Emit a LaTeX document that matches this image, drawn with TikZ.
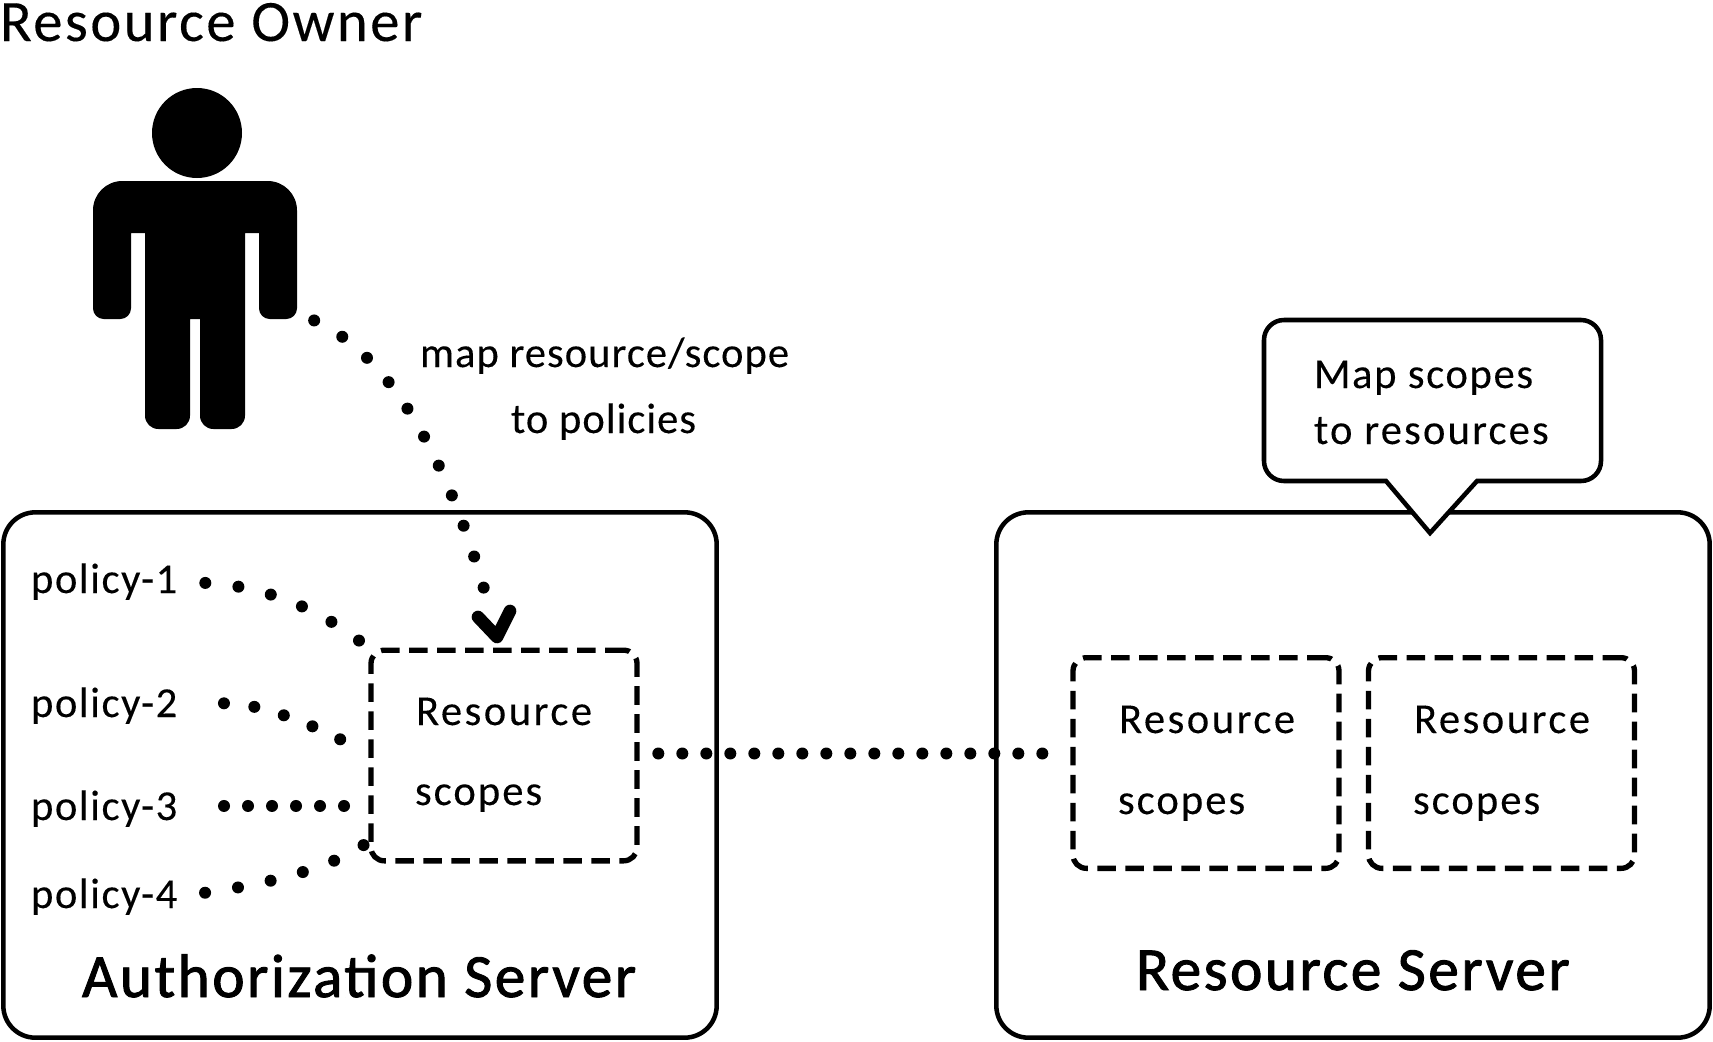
\documentclass[tikz,border=0pt]{standalone}
\usepackage{fontspec}
\setmainfont{Carlito}
\usetikzlibrary{positioning}
\tikzset{
  server/.style={draw,line width=3.4pt,rounded corners=24pt,minimum width=535pt,minimum height=394pt,inner sep=0pt,outer sep=0pt},
  scopebox/.style={draw,line width=4pt,rounded corners=10pt,dash pattern=on 14pt off 7pt,minimum width=199.5pt,minimum height=158pt,outer sep=0pt},
  label/.style={anchor=base west,inner sep=0pt,outer sep=0pt},
  small/.style={label,font=\fontsize{32}{38}\selectfont\addfontfeature{LetterSpace=#1,FakeBold=0.2}},
  big/.style={label,font=\fontsize{44}{52}\selectfont\addfontfeature{LetterSpace=4.2,FakeBold=0.2}},
  title/.style={label,font=\fontsize{46}{54}\selectfont\addfontfeature{LetterSpace=4,FakeBold=1.5}},
  dotlink/.style={line width=9pt,line cap=round,dash pattern=on 0pt off #1},
}
\begin{document}
\begin{tikzpicture}[x=0.75pt,y=-0.75pt]
\useasboundingbox (0,0) rectangle (1713,1042);
% servers
\node[server] (authserver) at (360,775) {};
\node[server] (resserver) at (1353,775) {};
\node[scopebox] (scopeA) at (504,755.5) {};
\node[scopebox] (scopeB) at (1206,763) {};
\node[scopebox] (scopeC) at (1501.5,763) {};
% person
\fill (197,133) circle [radius=45];
\fill (145,233) -- (131,233) [rounded corners=8pt] -- (131,319) -- (93,319) [rounded corners=22pt] -- (93,181) -- (297,181) [rounded corners=8pt] -- (297,319) -- (259,319) [sharp corners] -- (259,233) -- (245,233) [rounded corners=10pt] -- (245,429) -- (200,429) [sharp corners] -- (200,319) -- (190,319) [rounded corners=10pt] -- (190,429) -- (145,429) [sharp corners] -- cycle;
\coordinate (hand) at (302,315);
\coordinate (arrowend) at (497,637);
\coordinate (armleft) at (478,617);
\coordinate (armright) at (510,611);
\coordinate (lastend) at (372,839);
% callout
\draw[line width=3.4pt,fill=white,miter limit=10] (1430,533) -- (1477,481) [rounded corners=15pt] -- (1601,481) -- (1601,320) -- (1264,320) -- (1264,481) [sharp corners] -- (1386,481) -- cycle;
% texts
\node[big] (owner) at (0,41) {Resource Owner};
\node[small=2.3] (mapres) at (420,367) {map resource/scope};
\node[small=2.3] (topol) at (511,433) {to policies};
\node[small=3.6] (policy1) at (31,593) {policy-1};
\node[small=3.6] (policy2) at (31,717) {policy-2};
\node[small=3.6] (policy3) at (31,820) {policy-3};
\node[small=3.6] (policy4) at (31,908) {policy-4};
\node[title] (authname) at (82,997) {Authorization Server};
\node[title] (resname) at (1136,990) {Resource Server};
\node[small=5.8] (resA) at (416,725) {Resource};
\node[small=4.7] (scoA) at (415,805) {scopes};
\node[small=5.8] (resB) at (1119,733) {Resource};
\node[small=4.7] (scoB) at (1118,814) {scopes};
\node[small=5.8] (resC) at (1414,733) {Resource};
\node[small=4.7] (scoC) at (1413,814) {scopes};
\node[small=3.8] (mapsc) at (1314,388) {Map scopes};
\node[small=5] (tores) at (1314,444) {to resources};
% dotted links
\draw[dotlink=24.4pt,shorten <=10pt,shorten >=19pt] (hand) .. controls (398,358) and (455,478) .. (arrowend);
\draw[line width=9.5pt,line cap=round,line join=round] (armleft) -- (arrowend) -- (armright);
\draw[dotlink=25pt,shorten <=21pt,shorten >=3pt] (policy1.east) .. controls (250,585) and (310,600) .. (scopeA.north west);
\draw[dotlink=23pt,shorten <=35pt,shorten >=21pt] (policy2.east) .. controls (250,702) and (300,718) .. (scopeA.west);
\draw[dotlink=18pt,shorten <=35pt,shorten >=19pt] ([yshift=2pt]policy3.east) -- ([yshift=2pt]policy3.east -| scopeA.west);
\draw[dotlink=25pt,shorten <=21pt,shorten >=4pt] (policy4.east) .. controls (260,885) and (330,870) .. (lastend);
\draw[dotlink=18pt,shorten <=16pt,shorten >=18pt] ([yshift=1.5pt]scopeA.east) -- ([yshift=1.5pt]scopeA.east -| scopeB.west);
\end{tikzpicture}
\end{document}
